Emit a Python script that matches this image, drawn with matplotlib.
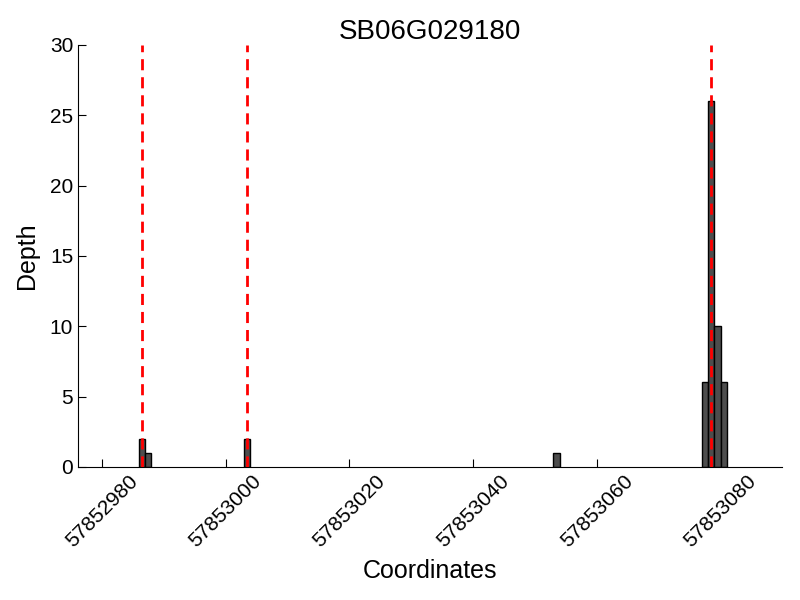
import matplotlib
matplotlib.use('Agg')
from matplotlib import pyplot as plt

plt.rcParams['font.family'] = ['Liberation Sans', 'DejaVu Sans']

gene = 'SB06G029180'
positions = [57852986, 57852987, 57853003, 57853053, 57853077, 57853078, 57853079, 57853080]
depths = [2, 1, 2, 1, 6, 26, 10, 6]
sites = [57852986.5, 57853003.5, 57853078.5]
xticks = [57852980, 57853000, 57853020, 57853040, 57853060, 57853080]

fig = plt.figure(figsize=(8, 6), dpi=100)
ax = fig.add_axes([0.0975, 0.222, 0.8805, 0.703])

ax.bar(positions, depths, width=1, align='edge', color='#4d4d4d',
       edgecolor='black', linewidth=1, zorder=2)
for s in sites:
    ax.axvline(s, color='red', linestyle='--', linewidth=2, dashes=(4, 2.5), zorder=3)

ax.set_xlim(57852976.15, 57853090)
ax.set_ylim(0, 30)
ax.set_yticks(range(0, 31, 5))
ax.set_xticks(xticks)
ax.set_xticklabels([str(t) for t in xticks], rotation=45, fontsize=15)
ax.tick_params(axis='y', labelsize=15)
ax.tick_params(direction='in', length=6, top=False, right=False)

ax.spines['top'].set_visible(False)
ax.spines['right'].set_visible(False)

ax.set_title(gene, fontsize=20, pad=4)
ax.set_xlabel('Coordinates', fontsize=18, labelpad=6)
ax.set_ylabel('Depth', fontsize=18, labelpad=8)

plt.savefig('out.png', dpi=100)
